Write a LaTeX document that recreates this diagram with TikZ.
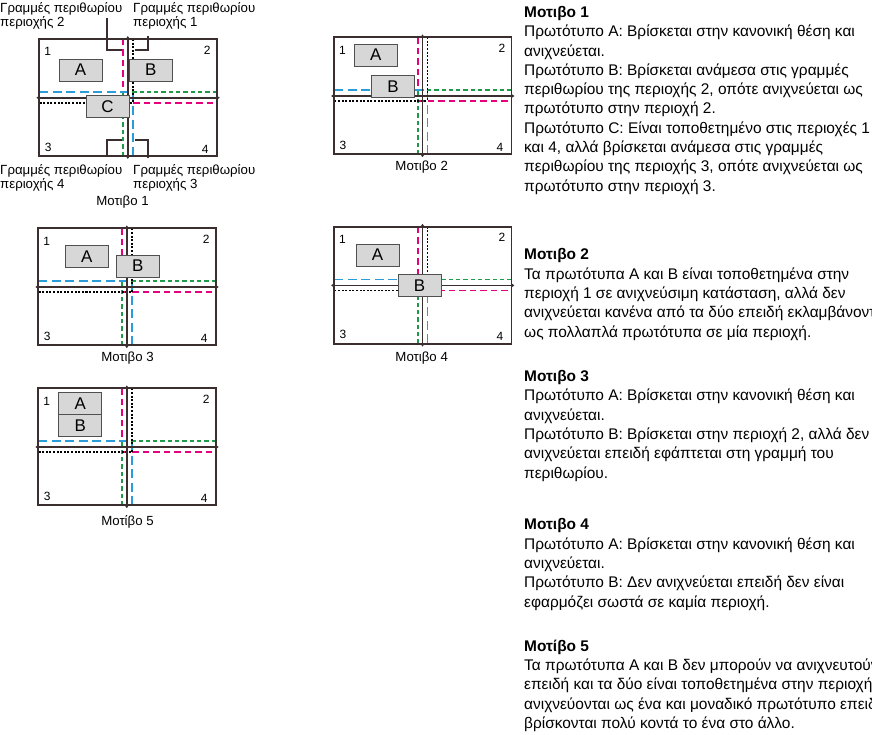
\documentclass[tikz,border=0pt]{standalone}
\usepackage{fontspec}
\setmainfont{Liberation Sans}
\usetikzlibrary{arrows.meta}
\definecolor{mag}{HTML}{E5007E}
\definecolor{blu}{HTML}{2B9CD8}
\definecolor{grn}{HTML}{1F9A48}
\definecolor{dk}{HTML}{3A2E2E}
\definecolor{bfill}{HTML}{D7D7D7}
\definecolor{bdraw}{HTML}{505050}
\tikzset{
  frame/.style={draw=dk, line width=1.9bp},
  axis/.style={draw=dk, line width=1.7bp, {Latex[length=3bp,width=4.5bp]}-{Latex[length=3bp,width=4.5bp]}},
  rmag/.style={draw=mag, line width=1.8bp, dash pattern=on 6.5bp off 4bp},
  rblu/.style={draw=blu, line width=1.8bp, dash pattern=on 9bp off 4.5bp},
  rgrn/.style={draw=grn, line width=1.8bp, dash pattern=on 4.3bp off 3bp},
  rblk/.style={draw=black, line width=1.7bp, dash pattern=on 2bp off 1.6bp},
  pbox/.style={draw=bdraw, fill=bfill, line width=0.8bp, minimum width=43bp, minimum height=22bp, inner sep=0pt, font=\fontsize{17}{17}\selectfont},
  rnum/.style={inner sep=0pt, font=\fontsize{12}{12}\selectfont},
  capt/.style={inner sep=0pt, font=\fontsize{13.3}{13.3}\selectfont},
  lbl/.style={inner sep=0pt, align=left, anchor=base west, font=\fontsize{13.3}{14}\selectfont},
  btext/.style={inner sep=0pt, align=left, anchor=base west, font=\fontsize{15.5}{19.4}\selectfont},
  brk/.style={draw=dk, line width=1.3bp}
}
% #1 prefix, #2 x, #3 y
\newcommand\motifdraw[3]{%
\begin{scope}[shift={(#2,#3)}]
  \fill[white] (0,0) rectangle (177.5,117);
  \draw[rmag] (84,0) -- (84,63.7) -- (177.5,63.7);
  \draw[rgrn] (177.5,52.7) -- (84,52.7) -- (84,117);
  \draw[rblu] (0,52.7) -- (93.5,52.7) -- (93.5,117);
  \draw[rblk] (93.5,0) -- (93.5,63.7) -- (0,63.7);
  \draw[frame] (0,0) rectangle (177.5,117);
  \coordinate (#1t) at (88.5,-3);
  \coordinate (#1b) at (88.5,120);
  \coordinate (#1l) at (-3,58.7);
  \coordinate (#1r) at (180.5,58.7);
  \draw[axis] (#1t) -- (#1b);
  \draw[axis] (#1l) -- (#1r);
  \node[rnum] (#1n1) at (8.5,12.7) {1};
  \node[rnum] (#1n2) at (168,11) {2};
  \node[rnum] (#1n3) at (9,108) {3};
  \node[rnum] (#1n4) at (166,110) {4};
\end{scope}}
\begin{document}
\begin{tikzpicture}[x=1bp,y=-1bp]
\useasboundingbox (0,0) rectangle (872,735);
\clip (0,0) rectangle (872,735);
\fill[white] (0,0) rectangle (872,735);

% Motif 1
\motifdraw{m1}{39.3}{39}
\node[pbox] (m1a) at (80.5,70) {A};
\node[pbox] (m1bx) at (150.8,70) {B};
\node[pbox] (m1c) at (107.5,106.5) {C};
\node[capt] (m1cap) at (122.5,201.7) {Μοτιβο 1};
\node[lbl] (lab2) at (0,26.5) {Γραμμές περιθωρίου\\περιοχής 2};
\node[lbl] (lab1) at (133,26.5) {Γραμμές περιθωρίου\\περιοχής 1};
\node[lbl] (lab4) at (0,188.5) {Γραμμές περιθωρίου\\περιοχής 4};
\node[lbl] (lab3) at (133,188.5) {Γραμμές περιθωρίου\\περιοχής 3};
\coordinate (k2a) at (107,18); \coordinate (k2b) at (107,50); \coordinate (k2c) at (121.5,50);
\coordinate (k1a) at (148,36); \coordinate (k1b) at (148,50); \coordinate (k1c) at (135,50);
\coordinate (k4a) at (107,157); \coordinate (k4b) at (107,140); \coordinate (k4c) at (121.5,140);
\coordinate (k3a) at (148,158); \coordinate (k3b) at (148,140); \coordinate (k3c) at (134.5,140);
\draw[brk] (k2a) -- (k2b) -- (k2c);
\draw[brk] (k1a) -- (k1b) -- (k1c);
\draw[brk] (k4a) -- (k4b) -- (k4c);
\draw[brk] (k3a) -- (k3b) -- (k3c);

% Motif 2
\motifdraw{m2}{334}{37.3}
\node[pbox] (m2a) at (375.8,55) {A};
\node[pbox] (m2bx) at (393,86.85) {B};
\node[capt] (m2cap) at (421.7,166.7) {Μοτιβο 2};

% Motif 3
\motifdraw{m3}{38.3}{228.3}
\node[pbox] (m3a) at (86.65,256.7) {A};
\node[pbox] (m3bx) at (137.85,266.15) {B};
\node[capt] (m3cap) at (127.5,358.3) {Μοτιβο 3};

% Motif 4
\motifdraw{m4}{334}{226.7}
\node[pbox] (m4a) at (377.5,255.15) {A};
\node[pbox] (m4bx) at (419.5,285.8) {B};
\node[capt] (m4cap) at (421.7,358.3) {Μοτιβο 4};

% Motif 5
\motifdraw{m5}{38.3}{388.3}
\node[pbox] (m5a) at (80.35,403.3) {A};
\node[pbox] (m5bx) at (80.35,425.5) {B};
\node[capt] (m5cap) at (127.5,521.7) {Μοτίβο 5};

% Right column text (anchored at the baseline of the last line)
\node[btext] (t1) at (524,191.3) {\textbf{Μοτιβο 1}\\
Πρωτότυπο A: Βρίσκεται στην κανονική θέση και\\
ανιχνεύεται.\\
Πρωτότυπο B: Βρίσκεται ανάμεσα στις γραμμές\\
περιθωρίου της περιοχής 2, οπότε ανιχνεύεται ως\\
πρωτότυπο στην περιοχή 2.\\
Πρωτότυπο C: Είναι τοποθετημένο στις περιοχές 1\\
και 4, αλλά βρίσκεται ανάμεσα στις γραμμές\\
περιθωρίου της περιοχής 3, οπότε ανιχνεύεται ως\\
πρωτότυπο στην περιοχή 3.};
\node[btext] (t2) at (524,337.1) {\textbf{Μοτιβο 2}\\
Τα πρωτότυπα A και B είναι τοποθετημένα στην\\
περιοχή 1 σε ανιχνεύσιμη κατάσταση, αλλά δεν\\
ανιχνεύεται κανένα από τα δύο επειδή εκλαμβάνονται\\
ως πολλαπλά πρωτότυπα σε μία περιοχή.};
\node[btext] (t3) at (524,478) {\textbf{Μοτιβο 3}\\
Πρωτότυπο A: Βρίσκεται στην κανονική θέση και\\
ανιχνεύεται.\\
Πρωτότυπο B: Βρίσκεται στην περιοχή 2, αλλά δεν\\
ανιχνεύεται επειδή εφάπτεται στη γραμμή του\\
περιθωρίου.};
\node[btext] (t4) at (524,607.1) {\textbf{Μοτιβο 4}\\
Πρωτότυπο A: Βρίσκεται στην κανονική θέση και\\
ανιχνεύεται.\\
Πρωτότυπο B: Δεν ανιχνεύεται επειδή δεν είναι\\
εφαρμόζει σωστά σε καμία περιοχή.};
\node[btext] (t5) at (524,728.6) {\textbf{Μοτίβο 5}\\
Τα πρωτότυπα A και B δεν μπορούν να ανιχνευτούν\\
επειδή και τα δύο είναι τοποθετημένα στην περιοχή 1,\\
ανιχνεύονται ως ένα και μοναδικό πρωτότυπο επειδή\\
βρίσκονται πολύ κοντά το ένα στο άλλο.};
\end{tikzpicture}
\end{document}
